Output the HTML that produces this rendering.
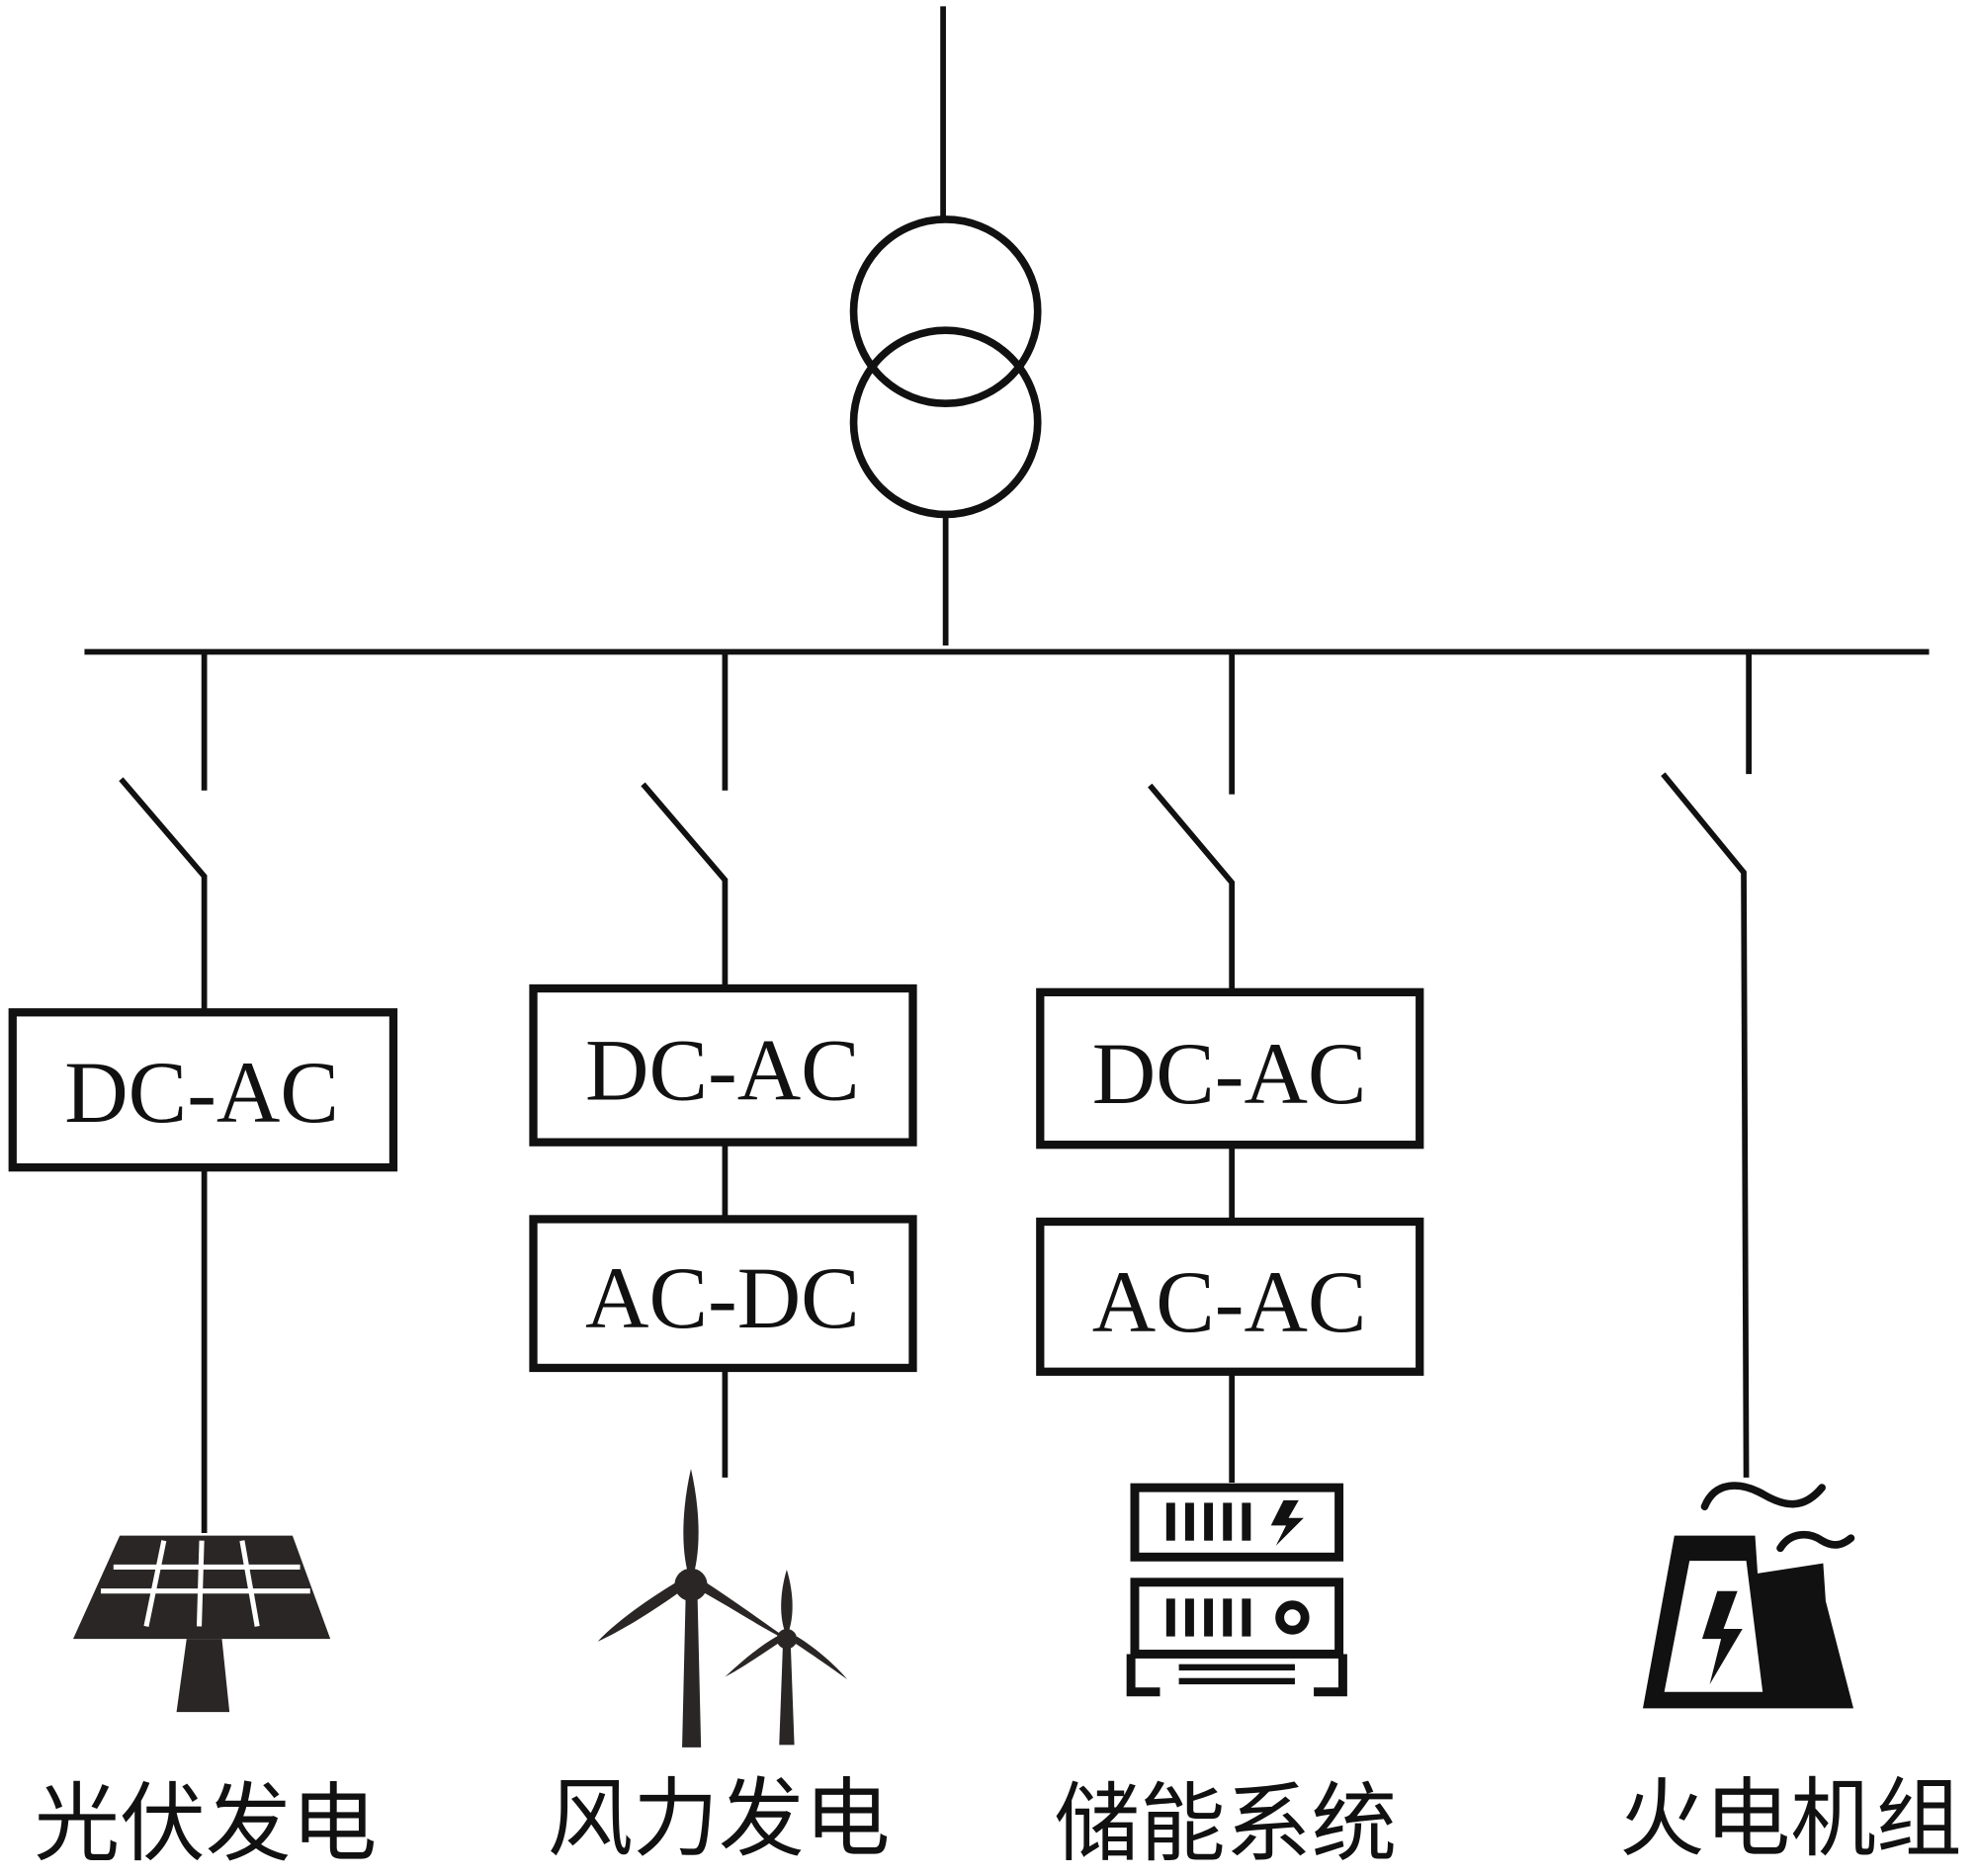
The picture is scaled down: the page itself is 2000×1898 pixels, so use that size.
<!DOCTYPE html>
<html><head><meta charset="utf-8"><style>
html,body{margin:0;padding:0;background:#fff;}
svg{display:block;}
text{font-family:"Liberation Serif",serif;}
.cn{font-family:"Noto Serif CJK SC","Liberation Serif","Noto Sans CJK SC",serif;}
</style></head><body>
<svg width="2000" height="1898" viewBox="0 0 1568 1488" xmlns="http://www.w3.org/2000/svg">
<g stroke="#111" fill="none" stroke-width="4.5">
<line x1="748" y1="5" x2="748" y2="176"/>
<circle cx="750" cy="247" r="73" stroke-width="6"/>
<circle cx="750" cy="335" r="73" stroke-width="6"/>
<line x1="750" y1="406" x2="750" y2="512"/>
<line x1="67" y1="517" x2="1530" y2="517"/>
<line x1="162" y1="519" x2="162" y2="627"/>
<line x1="575" y1="519" x2="575" y2="627"/>
<line x1="977" y1="519" x2="977" y2="630"/>
<line x1="1387" y1="519" x2="1387" y2="614"/>
<polyline points="96,618 162,695 162,802"/>
<polyline points="510,622 575,698 575,783"/>
<polyline points="912,623 977,700 977,786"/>
<polyline points="1319,614 1383,692 1385,1172"/>
<line x1="162" y1="927" x2="162" y2="1216"/>
<line x1="575" y1="907" x2="575" y2="966"/>
<line x1="575" y1="1086" x2="575" y2="1172"/>
<line x1="977" y1="909" x2="977" y2="968"/>
<line x1="977" y1="1089" x2="977" y2="1176"/>
<g stroke-width="6.5">
<rect x="10" y="803" width="302" height="123"/>
<rect x="423" y="784" width="301" height="122"/>
<rect x="423" y="967" width="301" height="118"/>
<rect x="825" y="787" width="301" height="121"/>
<rect x="825" y="969" width="301" height="119"/>
</g>
</g>
<g font-size="70" text-anchor="middle" fill="#111">
<text x="160" y="890">DC-AC</text>
<text x="573" y="872">DC-AC</text>
<text x="573" y="1053">AC-DC</text>
<text x="975" y="875">DC-AC</text>
<text x="975" y="1056">AC-AC</text>
</g>
<g fill="#2a2626">
<polygon points="95,1218 232,1218 262,1300 58,1300"/>
<polygon points="148,1300 176,1300 182,1358 140,1358"/>
</g>
<g stroke="#fff" stroke-width="4">
<line x1="90" y1="1243" x2="238" y2="1243"/>
<line x1="80" y1="1262" x2="246" y2="1262"/>
<line x1="130" y1="1222" x2="116" y2="1290"/>
<line x1="160" y1="1222" x2="158" y2="1290"/>
<line x1="192" y1="1222" x2="204" y2="1290"/>
</g>
<g fill="#2a2626">
<polygon points="544,1258 553,1258 556,1386 541,1386"/>
<path d="M548,1165 C556,1200 556,1235 548,1255 C540,1235 540,1200 548,1165Z"/>
<path d="M540,1262 C515,1280 490,1295 474,1302 C490,1285 515,1268 538,1254Z"/>
<path d="M556,1262 C580,1275 610,1295 632,1305 C610,1290 580,1268 558,1254Z"/>
<circle cx="548" cy="1257" r="13"/>
<polygon points="621,1302 627,1302 630,1384 618,1384"/>
<path d="M624,1245 C630,1265 630,1285 624,1298 C618,1285 618,1265 624,1245Z"/>
<path d="M618,1303 C600,1315 585,1325 575,1330 C588,1318 602,1306 616,1298Z"/>
<path d="M630,1303 C648,1315 662,1325 672,1332 C660,1318 645,1306 632,1298Z"/>
<circle cx="624" cy="1300" r="8"/>
</g>
<g fill="none" stroke="#111" stroke-width="7">
<rect x="900" y="1180" width="162" height="55"/>
<rect x="900" y="1255" width="162" height="57"/>
<polyline points="897,1312 897,1342 920,1342"/>
<polyline points="1065,1312 1065,1342 1042,1342"/>
<circle cx="1025" cy="1283" r="10"/>
</g>
<g fill="#111">
<rect x="925" y="1192" width="7" height="30"/><rect x="940" y="1192" width="7" height="30"/><rect x="955" y="1192" width="7" height="30"/><rect x="970" y="1192" width="7" height="30"/><rect x="985" y="1192" width="7" height="30"/>
<polygon points="1018,1190 1008,1210 1020,1210 1012,1226 1034,1204 1022,1204 1030,1190"/>
<rect x="925" y="1268" width="7" height="30"/><rect x="940" y="1268" width="7" height="30"/><rect x="955" y="1268" width="7" height="30"/><rect x="970" y="1268" width="7" height="30"/><rect x="985" y="1268" width="7" height="30"/>
<rect x="935" y="1320" width="92" height="5"/><rect x="935" y="1331" width="92" height="5"/>
</g>
<g fill="#111">
<path d="M1328,1218 L1392,1218 L1394,1248 L1446,1240 L1448,1270 L1470,1355 L1303,1355 Z"/>
</g>
<polygon points="1340,1238 1385,1238 1398,1342 1320,1342" fill="#fff"/>
<polygon points="1362,1262 1350,1300 1365,1300 1356,1336 1382,1292 1367,1292 1378,1262" fill="#111"/>
<g fill="none" stroke="#111" stroke-width="6" stroke-linecap="round">
<path d="M1352,1195 C1360,1175 1380,1175 1398,1185 C1415,1195 1430,1198 1445,1180"/>
<path d="M1412,1228 C1420,1215 1435,1215 1445,1222 C1455,1228 1462,1225 1468,1220"/>
</g>
<g font-size="68" text-anchor="middle" fill="#111" class="cn">
<text x="163" y="1470">光伏发电</text>
<text x="570" y="1466">风力发电</text>
<text x="972" y="1470">储能系统</text>
<text x="1420" y="1466">火电机组</text>
</g>
</svg>
</body></html>
